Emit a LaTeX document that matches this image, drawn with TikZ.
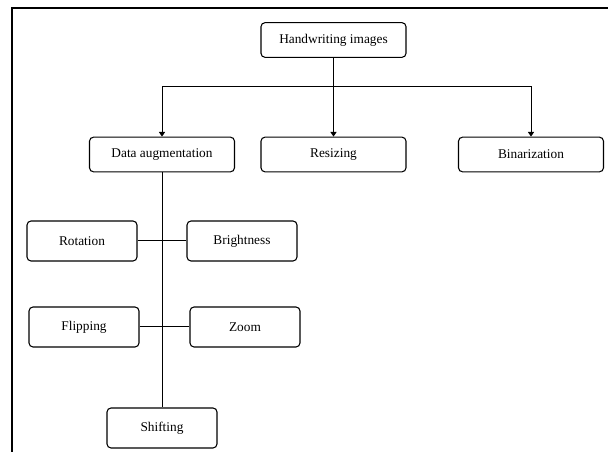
\documentclass[tikz,border=0pt]{standalone}
\usepackage{fontspec}
\setmainfont{Liberation Serif}
\usepackage{tikz}
\usetikzlibrary{shapes}
\usetikzlibrary{arrows.meta}
\usetikzlibrary{positioning}
\usetikzlibrary{calc}

\begin{document}
\begin{tikzpicture}[x=0.75pt,y=-0.75pt,>={Triangle[length=3.5pt,width=4.5pt]}]%,pixel grid
        \tikzstyle{box}=[draw, thick, rounded corners=3pt, minimum width=108.75pt, minimum height=26pt, align=center, inner sep=0pt]
        \tikzstyle{smallbox}=[box, minimum width=82.5pt, minimum height=30pt]
        \tikzstyle{link}=[draw, line width=0.75pt]
        \useasboundingbox (0,0) rectangle (608,452);
        \draw[line width=1.3pt] (12,452) -- (12,8) -- (608,8);
        \node[box] (handwriting) at (333.5,40) {Handwriting images};
        \node[box] (augmentation) at (162,154.5) {Data augmentation};
        \node[box] (resizing) at (333.5,154.5) {Resizing};
        \node[box] (binarization) at (531,154.5) {Binarization};
        \node[smallbox] (rotation) at (82,241) {Rotation};
        \node[smallbox] (brightness) at (242,241) {Brightness};
        \node[smallbox] (flipping) at (84,327) {Flipping};
        \node[smallbox] (zoom) at (245,327) {Zoom};
        \node[smallbox] (shifting) at (162,428) {Shifting};
        \coordinate (bus) at (333.5,87);
        \path [->,link] (handwriting) -- (resizing);
        \path [->,link] (bus) -| (augmentation);
        \path [->,link] (bus) -| (binarization);
        \path [link] (augmentation) -- (shifting);
        \path [link] (rotation) -- (brightness);
        \path [link] (flipping) -- (zoom);
      \end{tikzpicture}
\end{document}
